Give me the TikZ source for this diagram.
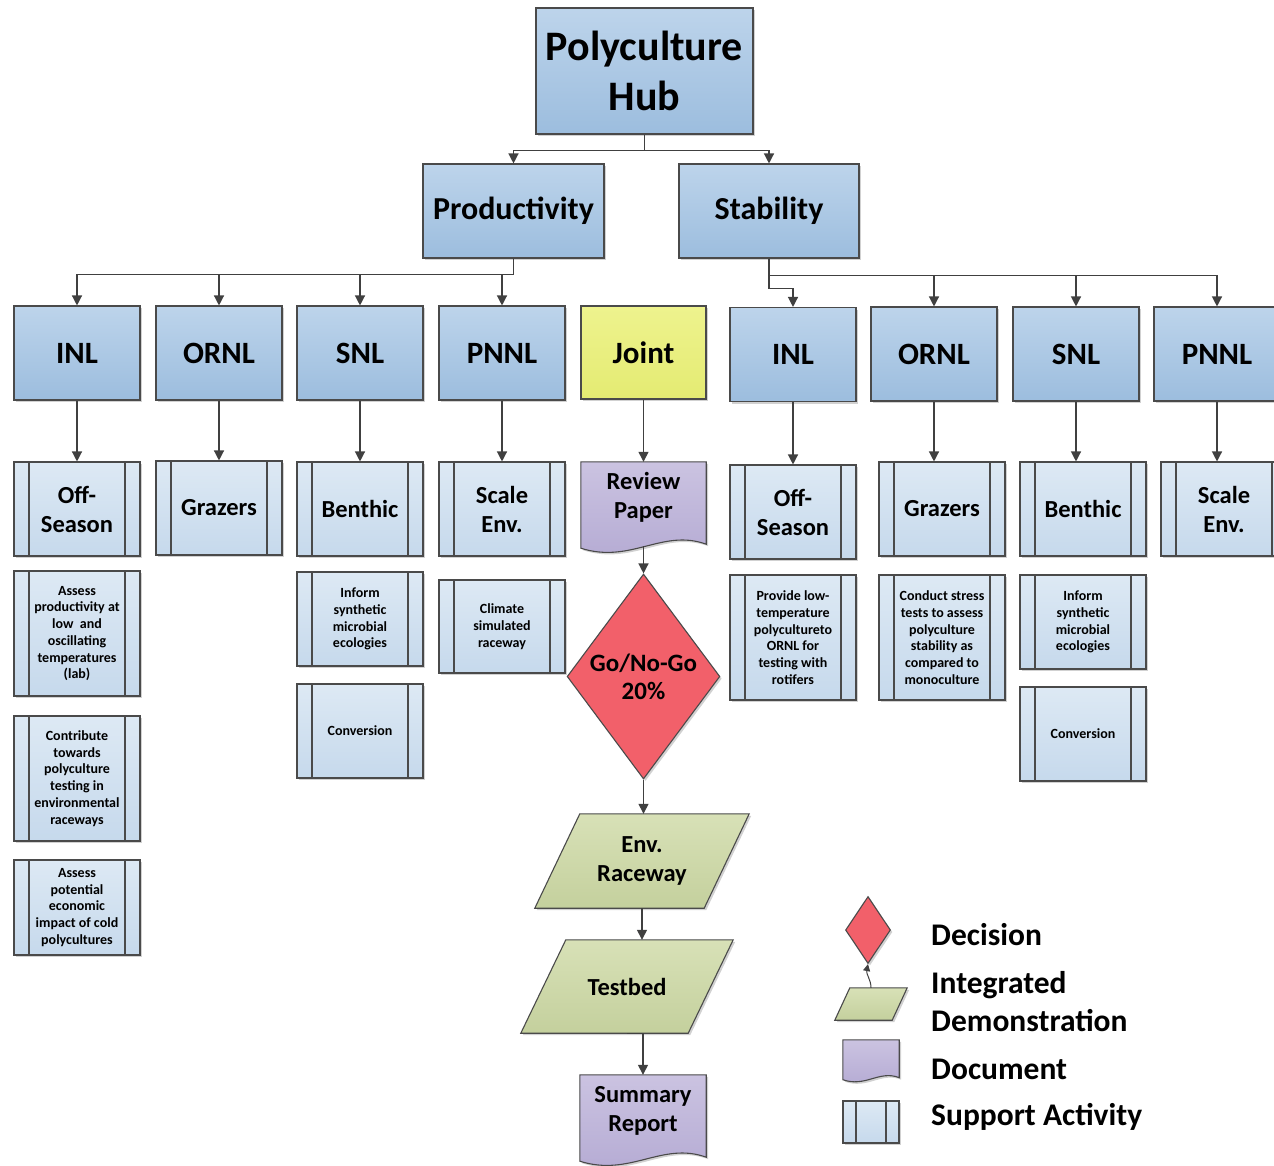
\documentclass[tikz,border=0pt]{standalone}
\usepackage{fontspec}
\setmainfont{Carlito}
\usetikzlibrary{calc,shapes.geometric,arrows.meta,shadows,backgrounds}
\definecolor{blueT}{HTML}{BDD4EB}
\definecolor{blueB}{HTML}{9CBDDE}
\definecolor{supT}{HTML}{DDE9F4}
\definecolor{supB}{HTML}{C6D9EC}
\definecolor{yelT}{HTML}{EEF38E}
\definecolor{yelB}{HTML}{E4EB72}
\definecolor{purT}{HTML}{CBC3E1}
\definecolor{purB}{HTML}{B4AAD3}
\definecolor{redF}{HTML}{F2606A}
\definecolor{grnT}{HTML}{D8E1B7}
\definecolor{grnB}{HTML}{C4D09D}
\definecolor{bordc}{HTML}{4A4A4A}
\definecolor{linec}{HTML}{404040}
\newcommand\fBig{\bfseries\fontsize{42}{50}\selectfont}
\newcommand\fMid{\bfseries\fontsize{32}{37}\selectfont}
\newcommand\fRowT{\bfseries\fontsize{31}{37}\selectfont}
\newcommand\fRow{\bfseries\fontsize{24.5}{29}\selectfont}
\newcommand\fSmall{\bfseries\fontsize{14}{16.7}\selectfont}
\newcommand\docshape[2]{%
  \path[docfill] (#1.north west) -- (#1.north east) -- ($(#1.south east)+(0,#2*11)$)
    .. controls ($(#1.south east)!0.35!(#1.south west)+(0,-#2*5)$) and ($(#1.south east)!0.6!(#1.south west)+(0,#2*31)$)
    .. ($(#1.south west)+(0,#2*15)$) -- cycle;}
\newcommand\parashape[2]{%
  \path[parfill] (#1.south west) -- ($(#1.north west)+(#2,0)$) -- (#1.north east) -- ($(#1.south east)+(-#2,0)$) -- cycle;}
\begin{document}
\begin{tikzpicture}[x=1pt,y=-1pt,
  shad/.style={drop shadow={shadow xshift=2pt,shadow yshift=-2pt,opacity=.18,fill=black}},
  base/.style={draw=bordc, line width=1.1pt, inner sep=0pt, align=center, text=black},
  bluebox/.style={base, rectangle, shad, top color=blueT, bottom color=blueB, minimum width=126pt, minimum height=94pt, font=\fRowT},
  yelbox/.style={bluebox, top color=yelT, bottom color=yelB},
  support/.style={base, rectangle, shad, top color=supT, bottom color=supB, minimum width=126pt, minimum height=94pt, font=\fRow,
    path picture={\draw[bordc,line width=1.1pt]
      ($(path picture bounding box.north west)+(#1,0)$) -- ($(path picture bounding box.south west)+(#1,0)$)
      ($(path picture bounding box.north east)+(-#1,0)$) -- ($(path picture bounding box.south east)+(-#1,0)$);}},
  support/.default=15,
  smallsup/.style={support, font=\fSmall},
  docnode/.style={inner sep=0pt, align=center, minimum width=126pt, minimum height=71pt, font=\fRow},
  docfill/.style={draw=bordc, line width=1.1pt, top color=purT, bottom color=purB, shad},
  parnode/.style={inner sep=0pt, align=center, font=\fRow},
  parfill/.style={draw=bordc, line width=1.1pt, top color=grnT, bottom color=grnB, shad},
  decision/.style={base, diamond, shad, fill=redF, font=\bfseries\fontsize{25}{28}\selectfont},
  conn/.style={draw=linec, line width=1.3pt, -{Triangle[width=10pt,length=10pt]}},
  legtext/.style={anchor=west, inner sep=0pt, align=left, font=\bfseries\fontsize{31.5}{38}\selectfont}
]
\useasboundingbox (0,0) rectangle (1274,1165);

% top levels
\node[bluebox, minimum width=217pt, minimum height=126pt, font=\fBig] (hub) at (644.5,71) {Polyculture\\Hub};
\node[bluebox, minimum width=181pt, minimum height=94pt, font=\fMid] (prod) at (513.5,211) {Productivity};
\node[bluebox, minimum width=180pt, minimum height=94pt, font=\fMid] (stab) at (769,211) {Stability};

% row 3
\node[bluebox] (inl1) at (77,353) {INL};
\node[bluebox] (orn1) at (219,353) {ORNL};
\node[bluebox] (snl1) at (360,353) {SNL};
\node[bluebox] (pnl1) at (502,353) {PNNL};
\node[yelbox, minimum width=125pt, minimum height=93pt] (joint) at (643.5,352.5) {Joint};
\node[bluebox] (inl2) at (793,354.5) {INL};
\node[bluebox] (orn2) at (934,354) {ORNL};
\node[bluebox] (snl2) at (1076,354) {SNL};
\node[bluebox] (pnl2) at (1217,354) {PNNL};

% row 4
\node[support] (off1) at (77,509) {Off-\\Season};
\node[support] (grz1) at (219,508) {Grazers};
\node[support] (ben1) at (360,509) {Benthic};
\node[support] (sca1) at (502,509) {Scale\\Env.};
\node[docnode, minimum width=125pt] (rp) at (643.5,497.5) {Review\\Paper};
\node[support] (off2) at (793,512) {Off-\\Season};
\node[support] (grz2) at (942,509) {Grazers};
\node[support] (ben2) at (1083,509) {Benthic};
\node[support] (sca2) at (1224,509) {Scale\\Env.};

% row 5 and below
\node[smallsup, minimum height=125pt] (a1) at (77,633.5) {Assess\\productivity at\\low~ and\\oscillating\\temperatures\\(lab)};
\node[smallsup, minimum height=125pt] (a2) at (77,778.5) {Contribute\\towards\\polyculture\\testing in\\environmental\\raceways};
\node[smallsup, minimum height=95pt] (a3) at (77,907.5) {Assess\\potential\\economic\\impact of cold\\polycultures};
\node[smallsup] (b1) at (360,619) {Inform\\synthetic\\microbial\\ecologies};
\node[smallsup] (b2) at (360,731) {Conversion};
\node[smallsup, minimum height=93pt] (c1) at (502,626.5) {Climate\\simulated\\raceway};
\node[smallsup, minimum height=125pt] (d1) at (793,637.5) {Provide low-\\temperature\\polycultureto\\ORNL for\\testing with\\rotifers};
\node[smallsup, minimum height=125pt] (e1) at (942,637.5) {Conduct stress\\tests to assess\\polyculture\\stability as\\compared to\\monoculture};
\node[smallsup] (f1) at (1083,622) {Inform\\synthetic\\microbial\\ecologies};
\node[smallsup] (f2) at (1083,734) {Conversion};

% joint chain
\node[decision, minimum width=138pt, minimum height=205pt] (dec) at (643.5,676.5) {Go/No-Go\\20\%};
\node[parnode, minimum width=214pt, minimum height=94pt] (env) at (642,861) {Env.\\Raceway};
\node[parnode, minimum width=212pt, minimum height=93pt] (tb) at (627,986.5) {Testbed};
\node[docnode] (sr) at (643,1110.5) {Summary\\Report};

% legend
\node[decision, minimum width=45pt, minimum height=67pt] (lgdec) at (868,930) {};
\node[parnode, minimum width=72pt, minimum height=32pt] (lgpar) at (871,1004) {};
\node[docnode, minimum width=56pt, minimum height=32pt] (lgdoc) at (871,1056) {};
\node[support=13, minimum width=56pt, minimum height=42pt] (lgsup) at (871,1122) {};
\node[legtext] (t1) at (931,935) {Decision};
\node[legtext] (t2) at (931,1002) {Integrated\\Demonstration};
\node[legtext] (t3) at (931,1069) {Document};
\node[legtext] (t4) at (931,1117) {Support Activity};

\begin{scope}[on background layer]
  \docshape{rp}{1}
  \docshape{sr}{1}
  \docshape{lgdoc}{0.5}
  \parashape{env}{45}
  \parashape{tb}{45}
  \parashape{lgpar}{15}
\end{scope}

% connectors
\draw[conn] (hub.south) -- ++(0,16) -| (prod.north);
\draw[conn] (hub.south) -- ++(0,16) -| (stab.north);
\foreach \n in {inl1,orn1,snl1,pnl1}{\draw[conn] (prod.south) -- ++(0,16) -| (\n.north);}
\foreach \n in {orn2,snl2,pnl2}{\draw[conn] (stab.south) -- ++(0,17) -| (\n.north);}
\draw[conn] (stab.south) -- ++(0,30) -| (inl2.north);
\draw[conn] (inl1) -- (off1);
\draw[conn] (orn1) -- (grz1);
\draw[conn] (snl1) -- (ben1);
\draw[conn] (pnl1) -- (sca1);
\draw[conn] (joint) -- (rp);
\draw[conn] (inl2) -- (off2);
\draw[conn] (orn2.south) -- (orn2.south |- grz2.north);
\draw[conn] (snl2.south) -- (snl2.south |- ben2.north);
\draw[conn] (pnl2.south) -- (pnl2.south |- sca2.north);
\draw[conn, shorten <=13pt] (rp.south) -- (dec.north);
\draw[conn] (dec.south) -- (dec.south |- env.north);
\draw[conn] (env.south) -- (env.south |- tb.north);
\draw[conn] (tb.south) -| (sr.north);
\draw[conn, line width=1pt, -{Triangle[width=7pt,length=7pt]}] (lgpar.north) .. controls ($(lgpar.north)+(0,-8)$) and ($(lgdec.south)+(-2,10)$) .. (lgdec.south);
\end{tikzpicture}
\end{document}
